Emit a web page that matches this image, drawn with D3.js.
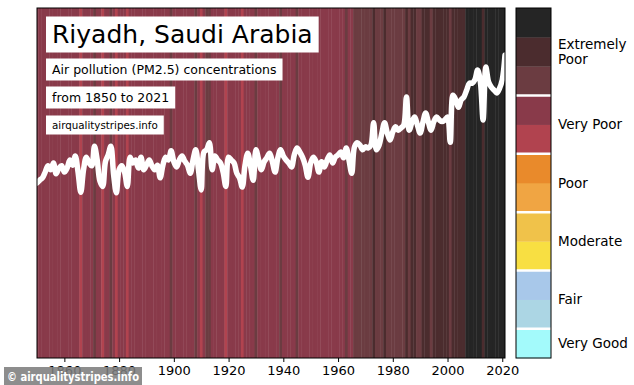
<!DOCTYPE html>
<html>
<head>
<meta charset="utf-8">
<script src="https://cdn.jsdelivr.net/npm/d3@7"></script>
<style>
  body { margin: 0; background: #fff; }
  text { font-family: "DejaVu Sans", sans-serif; }
</style>
</head>
<body>
<div id="chart"></div>
<script>
// PM2.5 (ug/m3), Riyadh, one value per year from 1850
const firstYear = 1850;
const pm25 = [
  40.5, 41.0, 41.4, 42.4, 43.5, 42.8, 44.0, 42.1, 43.1, 43.5,
  42.4, 43.1, 44.5, 43.6, 45.2, 42.4, 38.9, 42.8, 45.0, 44.0,
  43.5, 46.9, 44.5, 40.8, 39.9, 44.2, 45.4, 46.9, 41.9, 38.8,
  42.8, 43.5, 42.4, 39.9, 45.0, 44.0, 44.5, 43.1, 45.0, 42.8,
  43.6, 44.5, 43.5, 42.8, 43.6, 41.4, 43.6, 45.0, 44.5, 46.1,
  44.2, 43.3, 44.5, 45.2, 44.3, 43.6, 42.2, 44.5, 46.3, 42.8,
  39.3, 45.9, 46.3, 47.5, 42.8, 45.2, 44.5, 44.0, 42.4, 39.9,
  45.0, 44.5, 44.0, 42.2, 41.4, 39.8, 43.6, 45.7, 43.5, 41.0,
  46.3, 44.5, 42.8, 44.2, 44.9, 45.7, 44.2, 42.4, 44.9, 46.3,
  45.2, 44.5, 44.0, 43.3, 45.4, 46.6, 45.9, 45.0, 43.6, 41.5,
  44.0, 45.0, 44.2, 42.4, 44.2, 43.3, 44.5, 45.4, 44.0, 45.0,
  45.4, 45.9, 44.9, 46.6, 44.5, 42.2, 46.8, 47.5, 47.1, 46.3,
  46.8, 46.6, 47.1, 51.0, 46.3, 47.1, 49.2, 51.0, 49.2, 48.0,
  49.4, 50.3, 49.7, 50.1, 50.6, 55.5, 49.7, 51.1, 52.0, 50.6,
  49.2, 51.1, 52.7, 51.1, 49.7, 51.2, 52.0, 51.5, 51.2, 51.5,
  52.0, 47.6, 55.8, 55.0, 53.7, 55.0, 55.5, 56.7, 57.9, 57.9,
  58.5, 60.2, 58.1, 51.5, 60.7, 58.1, 57.2, 56.7, 56.2, 57.0,
  58.5, 62.8
];
const years = pm25.map((d, i) => firstYear + i);

const tickYears = [1860, 1880, 1900, 1920, 1940, 1960, 1980, 2000, 2020];

// colour levels, lowest first, and the breaks between them
const levelBreaks = [5, 10, 15, 20, 25, 30, 35, 40, 46, 51, 56];
const levelColors = [
  "#a3fafb", "#acd6e4", "#a8c8ea", "#f8df42", "#f0c24a", "#f0a543",
  "#e98a2b", "#b1434f", "#893a4a", "#6b3c41", "#4b2c2e", "#252525"
];
const categories = ["Very Good", "Fair", "Moderate", "Poor", "Very Poor", "Extremely Poor"];
const categoryLevels = [1, 2, 2, 2, 2, 3];

const titleText = "Riyadh, Saudi Arabia";
const infoLines = ["Air pollution (PM2.5) concentrations", "from 1850 to 2021"];
const siteText = "airqualitystripes.info";
const creditText = "\u00a9 airqualitystripes.info";

const width = 634, height = 385;
const m = { left: 37, right: 505, top: 8, bottom: 358 };

const svg = d3.select("#chart").append("svg")
  .attr("width", width)
  .attr("height", height);

const x = d3.scaleLinear().domain([1850, 2021]).range([m.left, m.right]);
const y = d3.scaleLinear().domain([10, 71]).range([m.bottom, m.top]);
const color = d3.scaleThreshold().domain(levelBreaks).range(levelColors);

svg.append("clipPath").attr("id", "plotclip")
  .append("rect")
  .attr("x", m.left).attr("y", m.top)
  .attr("width", m.right - m.left).attr("height", m.bottom - m.top);

const plot = svg.append("g").attr("clip-path", "url(#plotclip)");

// stripes
plot.selectAll("rect.stripe")
  .data(years)
  .enter()
  .append("rect")
  .attr("class", "stripe")
  .attr("x", d => x(d - 0.5))
  .attr("y", m.top)
  .attr("width", d => x(d + 0.5) - x(d - 0.5) + 0.4)
  .attr("height", m.bottom - m.top)
  .attr("fill", (d, i) => color(pm25[i]));

// the series itself
const line = d3.line()
  .x((d, i) => x(years[i]))
  .y(d => y(d))
  .curve(d3.curveCatmullRom.alpha(0.5));

plot.append("path")
  .datum(pm25)
  .attr("d", line)
  .attr("fill", "none")
  .attr("stroke", "#fff")
  .attr("stroke-width", 5.5)
  .attr("stroke-linejoin", "round")
  .attr("stroke-linecap", "round");

svg.append("rect")
  .attr("x", m.left).attr("y", m.top)
  .attr("width", m.right - m.left).attr("height", m.bottom - m.top)
  .attr("fill", "none")
  .attr("stroke", "#000")
  .attr("stroke-width", 1);

const xAxis = svg.append("g")
  .attr("transform", `translate(0,${m.bottom})`)
  .call(d3.axisBottom(x).tickValues(tickYears).tickFormat(d3.format("d")).tickSize(4).tickPadding(4));
xAxis.select(".domain").remove();
xAxis.selectAll("text")
  .attr("font-size", 13)
  .attr("font-family", "DejaVu Sans, sans-serif")
  .attr("fill", "#000");

// title boxes
function labelBox(txt, tx, ty, size, padX, padY) {
  const g = svg.append("g");
  const t = g.append("text")
    .attr("x", tx).attr("y", ty)
    .attr("font-size", size)
    .attr("fill", "#000")
    .text(txt);
  const b = t.node().getBBox();
  g.insert("rect", "text")
    .attr("x", b.x - padX).attr("y", b.y - padY)
    .attr("width", b.width + 2 * padX).attr("height", b.height + 2 * padY)
    .attr("fill", "#fff");
}
labelBox(titleText, 52, 43, 25, 6, 3.5);
labelBox(infoLines[0], 52, 74, 12.5, 6, 3.5);
labelBox(infoLines[1], 52, 102, 12.5, 6, 3.5);
labelBox(siteText, 52, 129, 10.3, 6, 3.5);

// colour bar
const cbX = 516, cbW = 35;
const cb = d3.scaleLinear().domain([0, levelColors.length]).range([m.bottom, m.top]);

svg.selectAll("rect.level")
  .data(levelColors)
  .enter()
  .append("rect")
  .attr("class", "level")
  .attr("x", cbX)
  .attr("y", (d, i) => cb(i + 1))
  .attr("width", cbW)
  .attr("height", (d, i) => cb(i) - cb(i + 1) + 0.3)
  .attr("fill", d => d);

const catStart = d3.cumsum([0].concat(categoryLevels));
svg.selectAll("line.sep")
  .data(catStart.slice(1, -1))
  .enter()
  .append("line")
  .attr("x1", cbX).attr("x2", cbX + cbW)
  .attr("y1", d => cb(d)).attr("y2", d => cb(d))
  .attr("stroke", "#fff")
  .attr("stroke-width", 2.5);

svg.append("rect")
  .attr("x", cbX).attr("y", m.top)
  .attr("width", cbW).attr("height", m.bottom - m.top)
  .attr("fill", "none")
  .attr("stroke", "#000")
  .attr("stroke-width", 1);

// category labels; the long one is wrapped on two lines as separate texts
const labelLines = [];
categories.forEach((c, i) => {
  const words = c === "Extremely Poor" ? ["Extremely", "Poor"] : [c];
  const mid = cb(catStart[i] + categoryLevels[i] / 2);
  words.forEach((w, k) => {
    labelLines.push({ text: w, y: mid + (k - (words.length - 1) / 2) * 14.5 });
  });
});

svg.selectAll("text.cat")
  .data(labelLines)
  .enter()
  .append("text")
  .attr("class", "cat")
  .attr("x", 558)
  .attr("y", d => d.y)
  .attr("dy", "0.35em")
  .attr("font-size", 13.5)
  .attr("fill", "#000")
  .text(d => d.text);

// credit badge
svg.append("rect")
  .attr("x", 4).attr("y", 367)
  .attr("width", 138).attr("height", 18)
  .attr("fill", "#7d7d7d")
  .attr("opacity", 0.88);
svg.append("text")
  .attr("x", 7).attr("y", 380.5)
  .attr("font-family", "Liberation Sans, Arial, sans-serif")
  .attr("font-weight", "bold")
  .attr("font-size", 12)
  .attr("textLength", 132)
  .attr("lengthAdjust", "spacingAndGlyphs")
  .attr("fill", "#fff")
  .text(creditText);
</script>
</body>
</html>
